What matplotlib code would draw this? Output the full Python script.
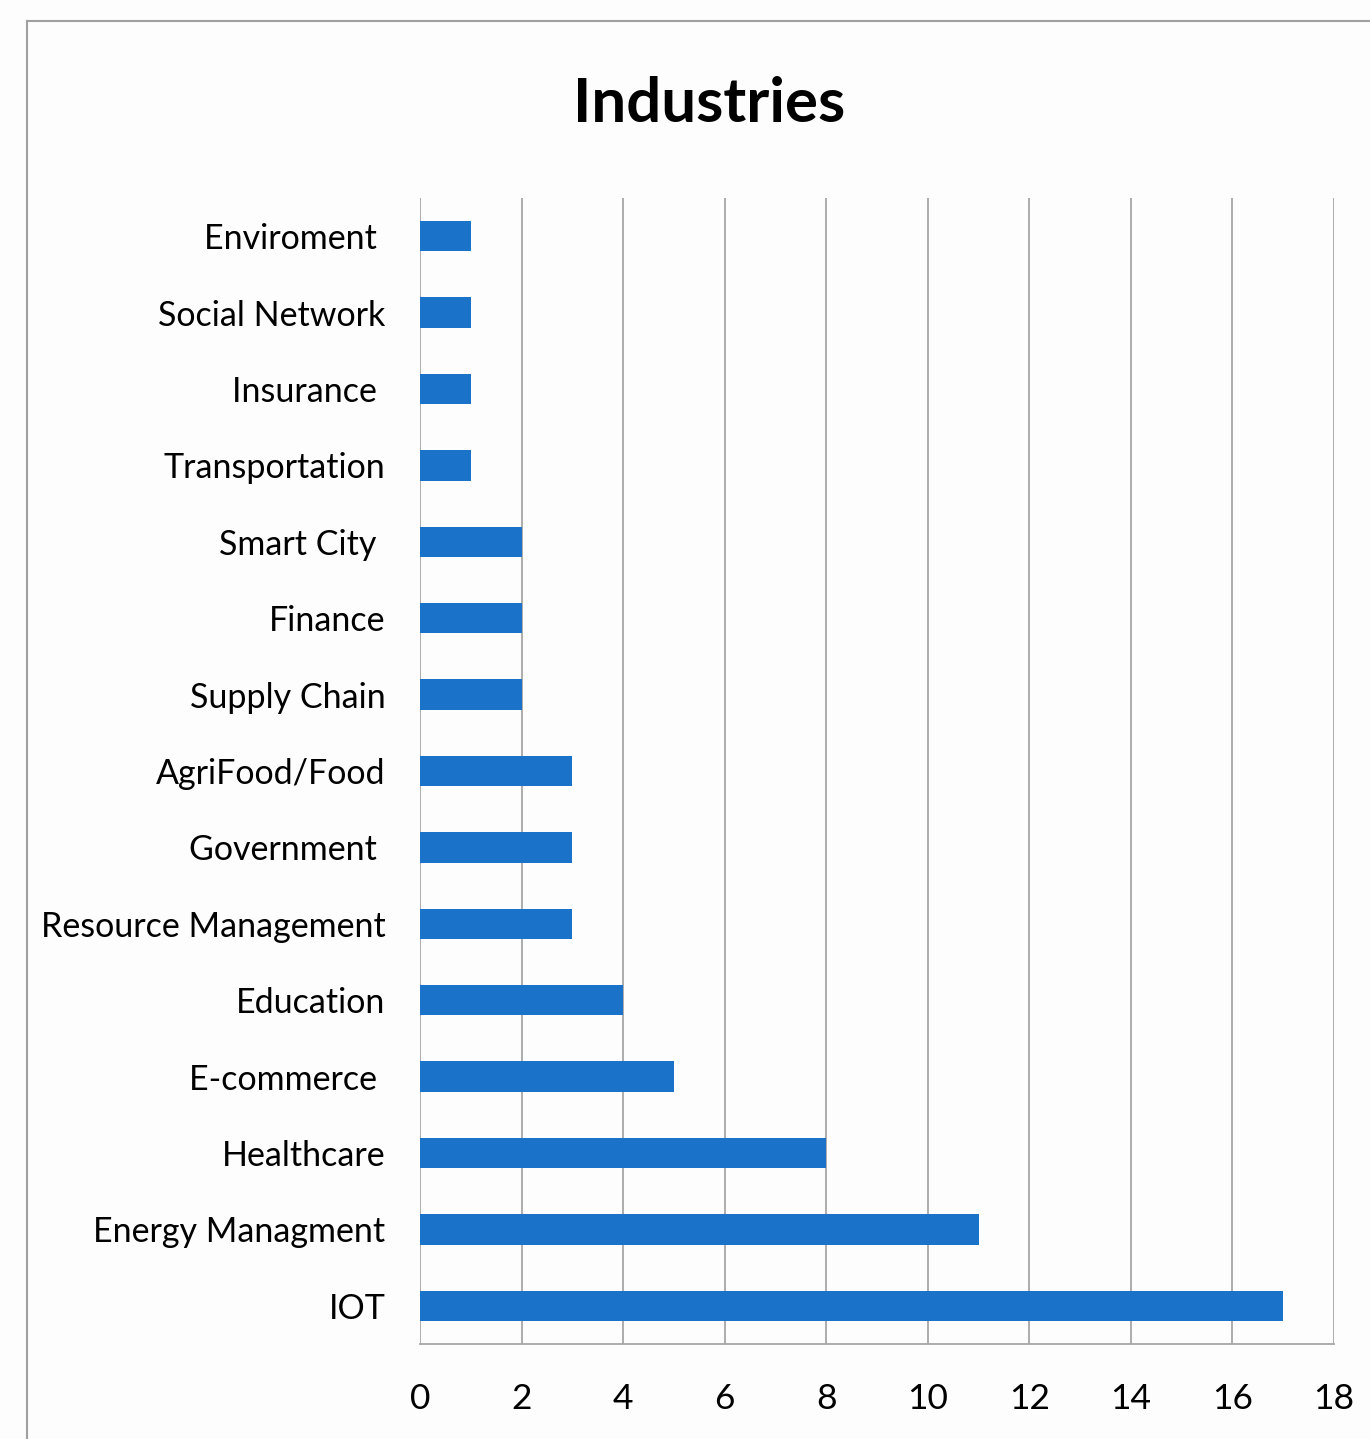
import matplotlib
matplotlib.use("Agg")
import matplotlib.pyplot as plt
from matplotlib.lines import Line2D

categories = ["Enviroment ", "Social Network", "Insurance ", "Transportation",
              "Smart City ", "Finance", "Supply Chain", "AgriFood/Food",
              "Government ", "Resource Management", "Education", "E-commerce ",
              "Healthcare", "Energy Managment", "IOT"]
values = [1, 1, 1, 1, 2, 2, 2, 3, 3, 3, 4, 5, 8, 11, 17]
xticks = [0, 2, 4, 6, 8, 10, 12, 14, 16, 18]

plt.rcParams['font.family'] = ['Lato', 'DejaVu Sans']

fig = plt.figure(figsize=(13.7, 14.39), dpi=100)
fig.patch.set_facecolor('#fdfdfd')
ax = fig.add_axes([420/1370, 1 - 1344/1439, (1334 - 420)/1370, (1344 - 198)/1439])
ax.set_facecolor('#fdfdfd')

ypos = list(range(len(categories)))
ax.barh(ypos, values, height=0.4, color='#1a73c8', zorder=3)
ax.set_ylim(len(categories) - 0.5, -0.5)
ax.set_xlim(0, 18)
ax.set_xticks(xticks)
ax.set_xticklabels([str(t) for t in xticks])
ax.set_yticks(ypos)
ax.set_yticklabels(categories)
ax.tick_params(axis='y', length=0, labelsize=24.5, colors='black', pad=25)
ax.tick_params(axis='x', length=0, labelsize=25.5, colors='black', pad=28)
ax.grid(axis='x', color='#a6a6a6', linewidth=1.3, zorder=0)
ax.grid(axis='y', visible=False)
for s in ['top', 'right', 'left']:
    ax.spines[s].set_visible(False)
ax.spines['bottom'].set_color('#a6a6a6')
ax.spines['bottom'].set_linewidth(1.3)

fig.text(709/1370, 1 - 104/1439, "Industries", ha='center', va='center',
         fontsize=44.5, fontweight='bold')

# outer frame (partially visible)
fig.add_artist(Line2D([27/1370, 27/1370], [0, 1 - 21/1439], transform=fig.transFigure,
                      color='#a0a0a0', linewidth=1.5))
fig.add_artist(Line2D([27/1370, 1], [1 - 21/1439, 1 - 21/1439], transform=fig.transFigure,
                      color='#a0a0a0', linewidth=1.5))

fig.savefig("out.png", dpi=100, facecolor=fig.get_facecolor())
